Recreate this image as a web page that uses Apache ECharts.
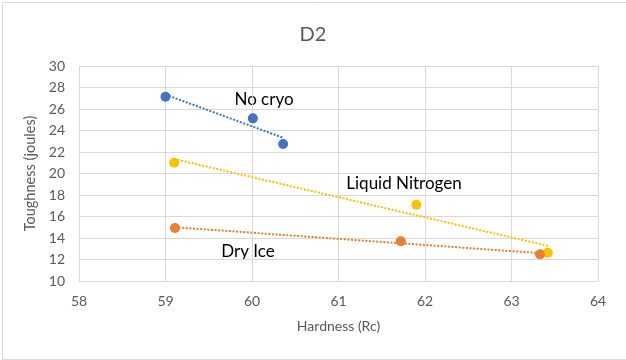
<!DOCTYPE html>
<html><head><meta charset="utf-8">
<script src="https://cdn.jsdelivr.net/npm/echarts@6/dist/echarts.min.js"></script>
<style>html,body{margin:0;padding:0;background:#fff}#c{width:626px;height:360px}</style>
</head><body><div id="c"></div>
<script>
const seriesNames = ['No cryo', 'Liquid Nitrogen', 'Dry Ice'];
const noCryoX = [59.0, 60.01, 60.36];
const noCryoY = [27.14, 25.13, 22.75];
const ln2X = [59.1, 61.9, 63.42];
const ln2Y = [21.0, 17.1, 12.63];
const dryIceX = [59.11, 61.72, 63.33];
const dryIceY = [14.93, 13.69, 12.48];
const colors = ['#4472C4', '#FFC000', '#ED7D31'];
const xTicks = [58, 59, 60, 61, 62, 63, 64];
const yTicks = [10, 12, 14, 16, 18, 20, 22, 24, 26, 28, 30];

function pairs(xs, ys) { return xs.map((x, i) => [x, ys[i]]); }
function trend(xs, ys) {
  const n = xs.length;
  const mx = xs.reduce((a, b) => a + b, 0) / n;
  const my = ys.reduce((a, b) => a + b, 0) / n;
  let sxy = 0, sxx = 0;
  for (let i = 0; i < n; i++) { sxy += (xs[i] - mx) * (ys[i] - my); sxx += (xs[i] - mx) ** 2; }
  const b = sxy / sxx, a = my - b * mx;
  const x0 = Math.min(...xs), x1 = Math.max(...xs);
  return [[x0, a + b * x0], [x1, a + b * x1]];
}
const sets = [[noCryoX, noCryoY], [ln2X, ln2Y], [dryIceX, dryIceY]];
const font = 'Lato, "Open Sans", sans-serif';
const series = [];
sets.forEach((s, i) => {
  series.push({
    type: 'line', data: trend(s[0], s[1]), symbol: 'none', silent: true,
    lineStyle: { color: colors[i], width: 2, type: [2, 1.6] }, z: 2
  });
});
sets.forEach((s, i) => {
  series.push({
    name: seriesNames[i], type: 'scatter', data: pairs(s[0], s[1]),
    symbolSize: 10, itemStyle: { color: colors[i], opacity: 1 }, z: 3
  });
});
const chart = echarts.init(document.getElementById('c'), null, { renderer: 'canvas' });
chart.setOption({
  animation: false,
  backgroundColor: '#fff',
  title: { text: 'D2', left: 'center', top: 20, textStyle: { color: '#595959', fontSize: 20, fontWeight: 'normal', fontFamily: font } },
  grid: { left: 79, right: 28, top: 66, bottom: 79 },
  xAxis: {
    type: 'value', min: xTicks[0], max: xTicks[xTicks.length - 1], interval: 1,
    name: 'Hardness (Rc)', nameLocation: 'middle', nameGap: 38,
    nameTextStyle: { color: '#595959', fontSize: 14, fontFamily: font },
    axisLine: { show: true, lineStyle: { color: '#d9d9d9' } }, axisTick: { show: false },
    axisLabel: { color: '#595959', fontSize: 14, margin: 13, fontFamily: font },
    splitLine: { show: true, lineStyle: { color: '#d9d9d9', width: 1 } }
  },
  yAxis: {
    type: 'value', min: yTicks[0], max: yTicks[yTicks.length - 1], interval: 2,
    name: 'Toughness (joules)', nameLocation: 'middle', nameGap: 35,
    nameTextStyle: { color: '#595959', fontSize: 14.5, fontFamily: font },
    axisLine: { show: true, lineStyle: { color: '#d9d9d9' } }, axisTick: { show: false },
    axisLabel: { color: '#595959', fontSize: 14, margin: 14, fontFamily: font },
    splitLine: { show: true, lineStyle: { color: '#d9d9d9', width: 1 } }
  },
  graphic: [
    { type: 'rect', left: 0, top: 0, shape: { width: 624, height: 357 }, style: { fill: 'none', stroke: '#d9d9d9', lineWidth: 1 }, silent: true },
    { type: 'text', x: 264, y: 100, style: { text: seriesNames[0], fill: '#000', font: '17px ' + font, textAlign: 'center', textVerticalAlign: 'middle' } },
    { type: 'text', x: 404, y: 184, style: { text: seriesNames[1], fill: '#000', font: '17px ' + font, textAlign: 'center', textVerticalAlign: 'middle' } },
    { type: 'text', x: 248, y: 252, style: { text: seriesNames[2], fill: '#000', font: '17px ' + font, textAlign: 'center', textVerticalAlign: 'middle' } }
  ],
  series: series
});
</script></body></html>
